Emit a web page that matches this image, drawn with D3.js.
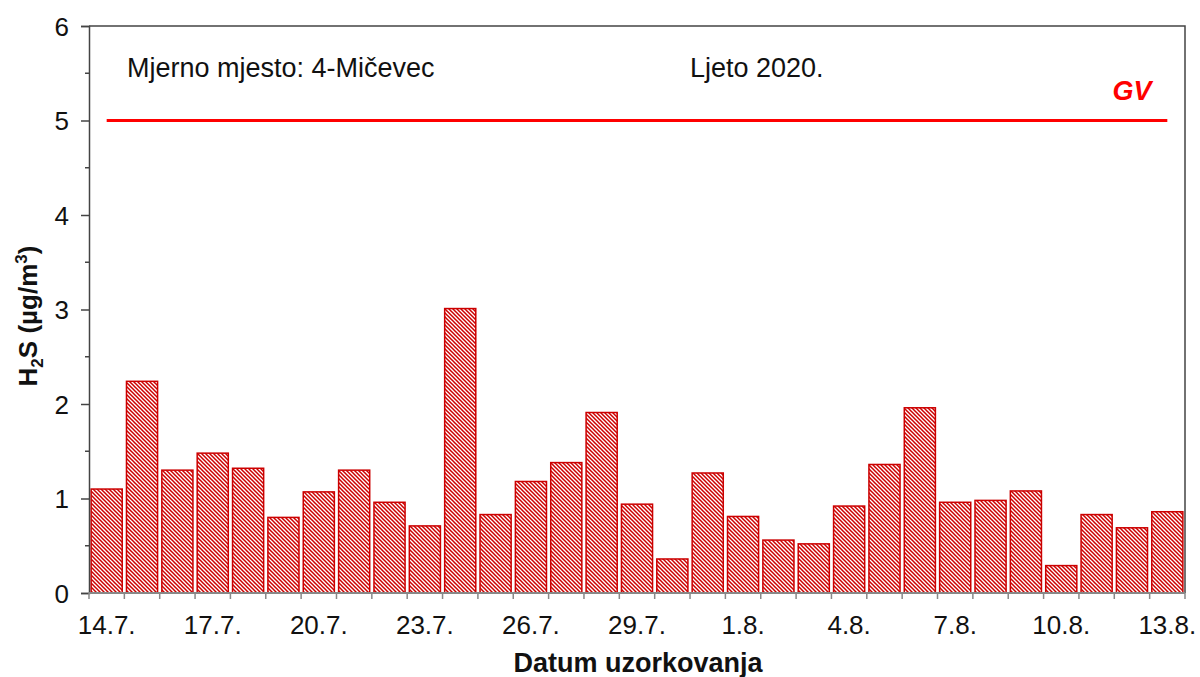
<!DOCTYPE html>
<html lang="hr">
<head>
  <meta charset="UTF-8" />
  <title>H2S - Mjerno mjesto 4-Mičevec</title>
  <script src="https://d3js.org/d3.v7.min.js"></script>
  <style>
    body { margin: 0; background: #fff; font-family: "Liberation Sans", Arial, sans-serif; }
    svg text { font-family: "Liberation Sans", Arial, sans-serif; fill: #111; }
  </style>
</head>
<body>
  <svg width="1200" height="677"></svg>

  <script>
    // Sampling dates (one bar per day)
    const dates = [
      "14.7.", "15.7.", "16.7.", "17.7.", "18.7.", "19.7.", "20.7.", "21.7.", "22.7.", "23.7.",
      "24.7.", "25.7.", "26.7.", "27.7.", "28.7.", "29.7.", "30.7.", "31.7.", "1.8.", "2.8.",
      "3.8.", "4.8.", "5.8.", "6.8.", "7.8.", "8.8.", "9.8.", "10.8.", "11.8.", "12.8.", "13.8."
    ];
    // H2S concentrations (µg/m3)
    const values = [
      1.10, 2.24, 1.30, 1.48, 1.32, 0.80, 1.07, 1.30, 0.96, 0.71,
      3.01, 0.83, 1.18, 1.38, 1.91, 0.94, 0.36, 1.27, 0.81, 0.56,
      0.52, 0.92, 1.36, 1.96, 0.96, 0.98, 1.08, 0.29, 0.83, 0.69, 0.86
    ];
    const tickLabels = ["14.7.", "17.7.", "20.7.", "23.7.", "26.7.", "29.7.", "1.8.", "4.8.", "7.8.", "10.8.", "13.8."];
    const yTicks = [0, 1, 2, 3, 4, 5, 6];
    const limitValue = 5; // GV

    const svg = d3.select("svg");
    const margin = { top: 26, right: 15, bottom: 84, left: 89 };
    const width = 1200, height = 677;

    const x = d3.scaleBand()
      .domain(dates)
      .range([margin.left, width - margin.right])
      .paddingInner(0.12)
      .paddingOuter(0.06);

    const y = d3.scaleLinear()
      .domain([0, 6])
      .range([height - margin.bottom, margin.top]);

    // hatch pattern (diagonal "\" stripes)
    const pat = svg.append("defs").append("pattern")
      .attr("id", "hatch")
      .attr("patternUnits", "userSpaceOnUse")
      .attr("width", 4)
      .attr("height", 4);
    pat.append("rect").attr("width", 4).attr("height", 4).attr("fill", "#fff");
    pat.append("path")
      .attr("d", "M-1,-1L5,5M-1,3L1,5M3,-1L5,1")
      .attr("stroke", "#cc0000")
      .attr("stroke-width", 1.5);

    // bars
    svg.append("g")
      .selectAll("rect")
      .data(values)
      .join("rect")
      .attr("x", (d, i) => x(dates[i]))
      .attr("y", d => y(d))
      .attr("width", x.bandwidth())
      .attr("height", d => y(0) - y(d))
      .attr("fill", "url(#hatch)")
      .attr("stroke", "#cc0000")
      .attr("stroke-width", 1.5);

    // plot frame (top + right)
    svg.append("path")
      .attr("d", `M${margin.left},${margin.top}H${width - margin.right}V${y(0)}`)
      .attr("fill", "none")
      .attr("stroke", "#444")
      .attr("stroke-width", 1.5);

    // y axis
    const yAxis = d3.axisLeft(y)
      .tickValues(yTicks)
      .tickSize(8)
      .tickPadding(12)
      .tickFormat(d3.format("d"));
    const gy = svg.append("g")
      .attr("transform", `translate(${margin.left},0)`)
      .call(yAxis);
    gy.select(".domain").attr("stroke", "#444").attr("stroke-width", 1.5);
    gy.selectAll(".tick line").attr("stroke", "#444").attr("stroke-width", 1.5);
    gy.selectAll(".tick text").attr("font-size", 26).attr("dy", "0.35em");

    // minor y ticks
    svg.append("g")
      .selectAll("line")
      .data(d3.range(0.5, 6, 1))
      .join("line")
      .attr("x1", margin.left - 4)
      .attr("x2", margin.left)
      .attr("y1", d => y(d))
      .attr("y2", d => y(d))
      .attr("stroke", "#444")
      .attr("stroke-width", 1.5);

    // x axis
    const gx = svg.append("g")
      .attr("transform", `translate(0,${y(0)})`);
    gx.append("line")
      .attr("x1", margin.left).attr("x2", width - margin.right)
      .attr("stroke", "#888").attr("stroke-width", 2);
    const plotW = width - margin.left - margin.right;
    gx.selectAll(".xtick")
      .data(d3.range(dates.length + 1))
      .join("line")
      .attr("class", "xtick")
      .attr("x1", i => margin.left + i * plotW / dates.length)
      .attr("x2", i => margin.left + i * plotW / dates.length)
      .attr("y1", 0).attr("y2", 6)
      .attr("stroke", "#888").attr("stroke-width", 1.5);
    gx.selectAll(".xlabel")
      .data(tickLabels)
      .join("text")
      .attr("class", "xlabel")
      .attr("x", d => x(d) + x.bandwidth() / 2)
      .attr("y", 41)
      .attr("text-anchor", "middle")
      .attr("font-size", 26)
      .text(d => d);

    // limit value line
    svg.append("line")
      .attr("x1", x(dates[0]) + x.bandwidth() / 2)
      .attr("x2", x(dates[dates.length - 1]) + x.bandwidth() / 2)
      .attr("y1", y(limitValue))
      .attr("y2", y(limitValue))
      .attr("stroke", "#ff0000")
      .attr("stroke-width", 3);
    svg.append("text")
      .attr("x", 1132)
      .attr("y", 100)
      .attr("text-anchor", "middle")
      .attr("font-size", 27)
      .attr("font-weight", "bold")
      .attr("font-style", "italic")
      .style("fill", "#ff0000")
      .text("GV");

    // annotations
    svg.append("text")
      .attr("x", 127).attr("y", 77)
      .attr("font-size", 27)
      .text("Mjerno mjesto: 4-Mičevec");
    svg.append("text")
      .attr("x", 690).attr("y", 77)
      .attr("font-size", 27)
      .text("Ljeto 2020.");

    // axis titles
    svg.append("text")
      .attr("x", 638).attr("y", 672)
      .attr("text-anchor", "middle")
      .attr("font-size", 27)
      .attr("font-weight", "bold")
      .text("Datum uzorkovanja");

    const yt = svg.append("text")
      .attr("transform", "translate(37,316) rotate(-90)")
      .attr("text-anchor", "middle")
      .attr("font-size", 26)
      .attr("font-weight", "bold");
    yt.append("tspan").text("H");
    yt.append("tspan").attr("font-size", 17).attr("dy", 6).text("2");
    yt.append("tspan").attr("dy", -6).text("S (µg/m");
    yt.append("tspan").attr("font-size", 17).attr("dy", -10).text("3");
    yt.append("tspan").attr("dy", 10).text(")");
  </script>
</body>
</html>
